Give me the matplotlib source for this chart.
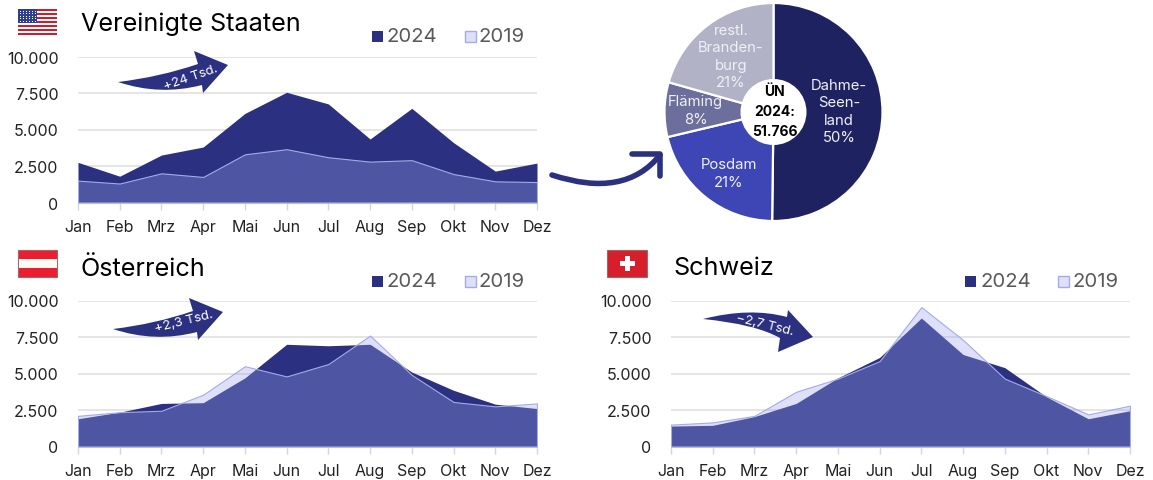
import matplotlib
matplotlib.use("Agg")
from matplotlib import pyplot as plt
from matplotlib.patches import PathPatch, Rectangle, Circle
from matplotlib.path import Path

W, H = 1153, 481

months = ["Jan", "Feb", "Mrz", "Apr", "Mai", "Jun", "Jul", "Aug", "Sep", "Okt", "Nov", "Dez"]
y_ticks = [0, 2500, 5000, 7500, 10000]
y_labels = ["0", "2.500", "5.000", "7.500", "10.000"]

usa_2024 = [2750, 1800, 3250, 3800, 6100, 7550, 6750, 4350, 6450, 4100, 2150, 2700]
usa_2019 = [1500, 1300, 2000, 1750, 3300, 3650, 3100, 2800, 2900, 1950, 1450, 1400]
aut_2024 = [1900, 2350, 2950, 3000, 4700, 7000, 6900, 7000, 5100, 3850, 2900, 2600]
aut_2019 = [2100, 2350, 2450, 3550, 5500, 4800, 5650, 7600, 4900, 3050, 2750, 2950]
che_2024 = [1400, 1450, 2050, 2950, 4700, 6100, 8800, 6300, 5400, 3400, 1900, 2450]
che_2019 = [1500, 1650, 2100, 3750, 4650, 5850, 9550, 7300, 4650, 3450, 2200, 2800]

pie_values = [50.2, 21.1, 8.1, 20.6]
pie_colors = ["#1F2260", "#3E46B5", "#6C6E9C", "#B1B2C6"]

NAVY = "#2B3080"
plt.rcParams["font.family"] = ["Inter", "DejaVu Sans"]

fig = plt.figure(figsize=(W / 100, H / 100), dpi=100)


def area_panel(left, top, v24, v19):
    # left, top: pixel position of the 10.000 gridline start
    ax = fig.add_axes([left / W, 1 - (top + 146) / H, 459 / W, 146 / H])
    x = range(12)
    ax.fill_between(x, v24, 0, color=NAVY, lw=0, zorder=2)
    ax.fill_between(x, v19, 0, facecolor=(0.596, 0.631, 0.918, 0.33),
                    edgecolor="#A4ABEA", lw=0.8, zorder=3)
    ax.set_xlim(0, 11)
    ax.set_ylim(0, 10000)
    ax.set_xticks(list(x), months)
    ax.set_yticks(y_ticks, y_labels)
    ax.grid(axis="y", color="#E3E3E3", lw=1.3, zorder=1)
    ax.set_axisbelow(True)
    ax.tick_params(axis="x", length=5, width=1, color="#D5D5E0", pad=7,
                   labelsize=11.5, labelcolor="#222222")
    ax.tick_params(axis="y", length=0, pad=14, labelsize=11.5, labelcolor="#222222")
    for side in ["top", "right", "left"]:
        ax.spines[side].set_visible(False)
    ax.spines["bottom"].set_color("#D5D5E0")
    ax.patch.set_alpha(0)
    return ax


area_panel(78, 57.5, usa_2024, usa_2019)
area_panel(78, 301.5, aut_2024, aut_2019)
area_panel(671, 301.5, che_2024, che_2019)

# pie
pie_ax = fig.add_axes([(773.5 - 110) / W, 1 - (113 + 110) / H, 220 / W, 220 / H])
pie_ax.pie(pie_values, colors=pie_colors, startangle=90, counterclock=False, radius=1,
           wedgeprops={"edgecolor": "white", "linewidth": 1.6})
pie_ax.set_xlim(-110 / 109, 110 / 109)
pie_ax.set_ylim(-110 / 109, 110 / 109)

# overlay in pixel coordinates for flags, legends, arrows and labels
ov = fig.add_axes([0, 0, 1, 1], zorder=5)
ov.set_xlim(0, W)
ov.set_ylim(H, 0)
ov.axis("off")


def legend(x, y):
    ov.add_patch(Rectangle((x, y - 5.5), 11, 11, fc=NAVY, ec="none"))
    ov.text(x + 15, y + 0.5, "2024", fontsize=14.6, color="#595959", va="center")
    ov.add_patch(Rectangle((x + 93, y - 5.5), 11, 11, fc="#DDE0F8", ec="#A4ABEA", lw=1))
    ov.text(x + 107, y + 0.5, "2019", fontsize=14.6, color="#595959", va="center")


def shape(points, codes):
    ov.add_patch(PathPatch(Path(points, codes), fc=NAVY, ec="none"))


def up_arrow(dx, dy):
    pts = [(118, 83), (160, 78), (198, 65), (194, 52), (228, 66), (203, 94), (202, 86),
           (160, 97), (118, 83), (118, 83)]
    pts = [(a + dx, b + dy) for a, b in pts]
    codes = [Path.MOVETO, Path.CURVE3, Path.CURVE3, Path.LINETO, Path.LINETO, Path.LINETO,
             Path.LINETO, Path.CURVE3, Path.CURVE3, Path.CLOSEPOLY]
    shape(pts, codes)


legend(372, 37)
legend(372, 282)
legend(965, 282)

titles = [(81, 24, "Vereinigte Staaten"), (81, 269, "Österreich"), (673, 269, "Schweiz")]
for tx, ty, name in titles:
    ov.text(tx, ty, name, fontsize=18.2, color="black", va="center")

# arrows with delta labels
up_arrow(0, 0)
up_arrow(-5, 247)
shape([(703, 320), (750, 308), (787, 318), (788, 311), (813, 338), (778, 353), (780, 339),
       (755, 325), (703, 320), (703, 320)],
      [Path.MOVETO, Path.CURVE3, Path.CURVE3, Path.LINETO, Path.LINETO, Path.LINETO,
       Path.LINETO, Path.CURVE3, Path.CURVE3, Path.CLOSEPOLY])
ov.text(191, 78, "+24 Tsd.", color="white", fontsize=9.5, rotation=19, ha="center", va="center")
ov.text(184, 322, "+2,3 Tsd.", color="white", fontsize=9.5, rotation=14, ha="center", va="center")
ov.text(765, 325, "−2,7 Tsd.", color="white", fontsize=9.5, rotation=-14, ha="center", va="center")

# arrow from the USA panel to the pie
ov.add_patch(PathPatch(Path([(552, 176), (625, 200), (660, 156)], [Path.MOVETO, Path.CURVE3, Path.CURVE3]),
                       fc="none", ec=NAVY, lw=4, capstyle="round"))
ov.plot([632, 660, 660], [155, 155, 177], color=NAVY, lw=4, solid_capstyle="round",
        solid_joinstyle="round")

# pie labels
ov.add_patch(Circle((773.5, 113), 33, fc="white", ec="none"))
ov.text(774.5, 112, "ÜN\n2024:\n51.766", fontsize=10, fontweight="bold", color="black",
        ha="center", va="center", linespacing=1.5)
pie_font = {"color": "#F0F0F6", "fontsize": 10.7, "ha": "center", "va": "center", "linespacing": 1.3}
ov.text(839, 112, "Dahme-\nSeen-\nland\n50%", **pie_font)
ov.text(729, 174, "Posdam\n21%", **pie_font)
ov.text(695.5, 111, "Fläming\n8%", **pie_font)
ov.text(731, 57, "restl.\nBranden-\nburg\n21%", **pie_font)

# flags
ov.add_patch(Rectangle((18, 10), 39, 26, fc="white", ec="none"))
for i in range(7):
    ov.add_patch(Rectangle((18, 10 + i * 4), 39, 2, fc="#C8202F", ec="none"))
ov.add_patch(Rectangle((18, 10), 19, 14, fc="#2F3F8F", ec="none"))
for r in range(5):
    for c in range(6):
        ov.add_patch(Rectangle((19.5 + c * 3, 11.5 + r * 2.6), 1, 1, fc="white", ec="none"))

ov.add_patch(Rectangle((18, 251), 39, 27, fc="#ED1C2E", ec="#9A6A70", lw=0.8))
ov.add_patch(Rectangle((18.5, 260), 38, 9, fc="#FBFBF6", ec="none"))

ov.add_patch(Rectangle((607, 251), 40, 27, fc="#D81E2A", ec="#9A6A70", lw=0.8))
ov.add_patch(Rectangle((624.5, 257), 5, 15, fc="white", ec="none"))
ov.add_patch(Rectangle((619.5, 262), 15, 5, fc="white", ec="none"))

fig.savefig("out.png", dpi=100)
